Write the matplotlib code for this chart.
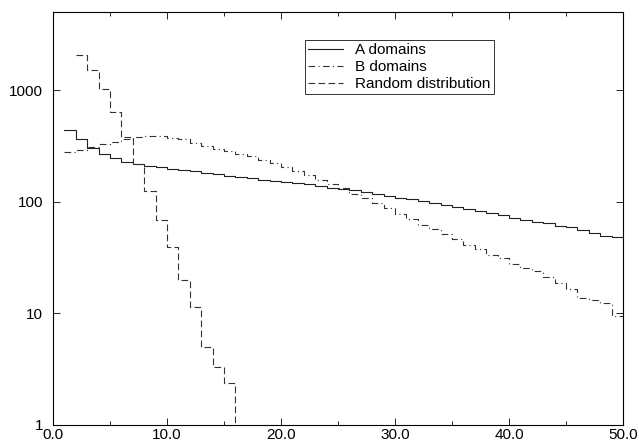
import matplotlib
matplotlib.use("Agg")
from matplotlib import pyplot as plt
from matplotlib.ticker import FixedLocator, FixedFormatter, MultipleLocator, NullLocator

plt.rcParams['font.family'] = ['Liberation Sans', 'DejaVu Sans']

# bin edges (length 1 bins) and counts
a_edges = list(range(1, 51))
a_counts = [436, 361, 303, 266, 244, 227, 216, 210, 204, 198,
            192, 187, 181, 176, 171, 167, 162, 158, 154, 150,
            147, 143, 138, 134, 130, 126, 122, 118, 112, 108,
            106, 102, 98, 94, 90, 86, 82, 79, 76, 72,
            69, 66, 64, 61, 59, 56, 52, 49, 48]

b_edges = list(range(1, 51))
b_counts = [281, 290, 309, 326, 345, 362, 376, 385, 385, 375,
            362, 338, 315, 295, 285, 268, 255, 238, 224, 203,
            187, 172, 155, 144, 134, 118, 108, 98, 87, 78,
            70, 62, 57, 51, 46, 41, 37.6, 33, 31, 27.4,
            25.5, 24, 21, 18.8, 16.4, 13.6, 13.2, 12.3, 9.5]

r_edges = list(range(2, 17))
r_counts = [2050, 1525, 1015, 640, 381, 217, 125, 68, 39, 20,
            11.5, 5.0, 3.3, 2.4]

x_ticks = [0, 10, 20, 30, 40, 50]
x_labels = ['0.0', '10.0', '20.0', '30.0', '40.0', '50.0']
y_ticks = [1, 10, 100, 1000]
y_labels = ['1', '10', '100', '1000']

fig = plt.figure(figsize=(6.39, 4.45), dpi=100)
ax = fig.add_axes([53 / 639, 20 / 445, 570 / 639, 413 / 445])

# step curves; the last value repeats so the final bin is drawn
ax.step(a_edges, a_counts + [a_counts[-1]], where='post', color='#222222',
        lw=0.8, label='A domains')
ax.step(b_edges, b_counts + [b_counts[-1]], where='post', color='#333333',
        lw=0.8, dashes=(6, 3, 1, 3), label='B domains')
ax.step(r_edges, r_counts + [0.1], where='post', color='#333333',
        lw=0.8, dashes=(6, 3), label='Random distribution')

ax.set_yscale('log')
ax.set_xlim(0, 50)
ax.set_ylim(1, 5000)

ax.xaxis.set_major_locator(FixedLocator(x_ticks))
ax.xaxis.set_major_formatter(FixedFormatter(x_labels))
ax.xaxis.set_minor_locator(MultipleLocator(5))
ax.yaxis.set_major_locator(FixedLocator(y_ticks))
ax.yaxis.set_major_formatter(FixedFormatter(y_labels))
ax.yaxis.set_minor_locator(NullLocator())

ax.tick_params(which='both', direction='in', top=True, right=True,
               labelsize=11, width=0.6)
ax.tick_params(axis='x', pad=2.5)
ax.tick_params(axis='y', pad=7)
ax.tick_params(which='major', length=5)
ax.tick_params(which='minor', length=3)
for s in ax.spines.values():
    s.set_linewidth(0.8)

leg = ax.legend(loc='upper left', bbox_to_anchor=(305 / 639, 1 - 40 / 445),
                bbox_transform=fig.transFigure,
                borderaxespad=0, fontsize=11, frameon=True, fancybox=False,
                edgecolor='black', handlelength=2.3, handletextpad=0.8,
                labelspacing=0.2, borderpad=0.2)
leg.get_frame().set_linewidth(0.7)

plt.savefig('out.png', dpi=100)
